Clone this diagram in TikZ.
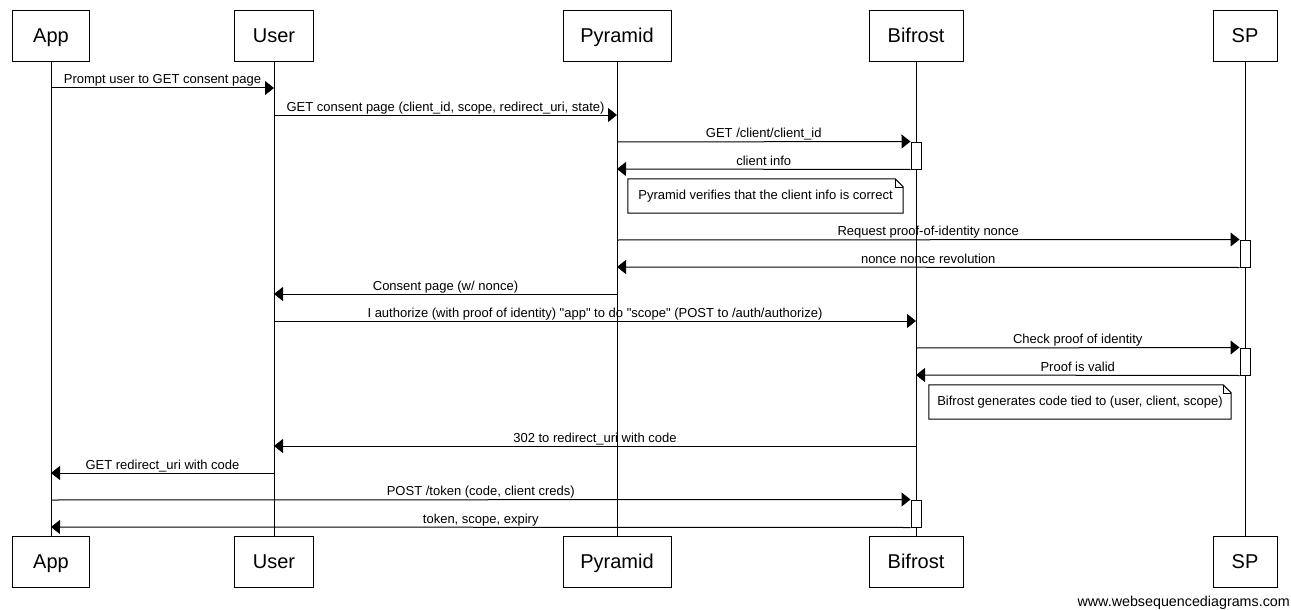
\documentclass[tikz,border=0pt]{standalone}
\usepackage{fontspec}
\setmainfont{Liberation Sans}[Ligatures=TeXOff]
\usetikzlibrary{arrows.meta,calc}
\begin{document}
\begin{tikzpicture}[x=1pt,y=-1pt,
  part/.style={draw, line width=1pt, minimum width=#1, minimum height=51, inner sep=0pt, text height=15pt, text depth=3pt, font=\fontsize{20}{24}\selectfont},
  life/.style={line width=1pt},
  msg/.style={line width=1pt, -{Triangle[length=9pt,width=14pt]}},
  lbl/.style={font=\fontsize{13}{15}\selectfont, anchor=base, yshift=4pt, inner sep=0pt},
  act/.style={draw, fill=white, line width=1pt, minimum width=10, minimum height=27, inner sep=0pt},
  notetxt/.style={font=\fontsize{13}{15}\selectfont, inner sep=0pt},
  notebox/.style={draw, fill=white, line width=1pt}
]
\useasboundingbox (0,0) rectangle (1291,610);
% participants
\node[part=77]  (At) at (51,36.5) {App};
\node[part=79]  (Ut) at (274,36.5) {User};
\node[part=108] (Pt) at (617,36.5) {Pyramid};
\node[part=94]  (Bt) at (916,36.5) {Bifrost};
\node[part=64]  (St) at (1245,36.5) {SP};
\node[part=77]  (Ab) at (51,562) {App};
\node[part=79]  (Ub) at (274,562) {User};
\node[part=108] (Pb) at (617,562) {Pyramid};
\node[part=94]  (Bb) at (916,562) {Bifrost};
\node[part=64]  (Sb) at (1245,562) {SP};
% lifelines
\draw[life] (At.south) -- (Ab.north);
\draw[life] (Ut.south) -- (Ub.north);
\draw[life] (Pt.south) -- (Pb.north);
\draw[life] (Bt.south) -- (Bb.north);
\draw[life] (St.south) -- (Sb.north);
% activations
\node[act] (a1) at (916,155.5) {};
\node[act] (a2) at (1245,253.5) {};
\node[act] (a3) at (1245,361.5) {};
\node[act] (a4) at (916,513.5) {};
% messages
\draw[msg] (At |- 0,88) -- node[lbl]{Prompt user to GET consent page} (Ut |- 0,88);
\draw[msg] (Ut |- 0,115) -- node[lbl]{GET consent page (client\_id, scope, redirect\_uri, state)} (Pt |- 0,115);
\draw[msg] (Pt |- 0,142) -- node[lbl]{GET /client/client\_id} (a1.north west);
\draw[msg] (a1.south west) -- node[lbl]{client info} (Pt |- 0,169);
% note 1
\node[notetxt, minimum width=275, minimum height=34] (n1) at (765.5,196) {};
\draw[notebox] (n1.north west) -- ($(n1.north east)+(-8,0)$) -- ($(n1.north east)+(0,8)$) -- (n1.south east) -- (n1.south west) -- cycle;
\draw[line width=0.6pt] ($(n1.north east)+(-8,0)$) -- ($(n1.north east)+(-8,8)$) -- ($(n1.north east)+(0,8)$);
\node[notetxt] at (n1) {Pyramid verifies that the client info is correct};
\draw[msg] (Pt |- 0,240) -- node[lbl]{Request proof-of-identity nonce} (a2.north west);
\draw[msg] (a2.south west) -- node[lbl]{nonce nonce revolution} (Pt |- 0,267);
\draw[msg] (Pt |- 0,294) -- node[lbl]{Consent page (w/ nonce)} (Ut |- 0,294);
\draw[msg] (Ut |- 0,321) -- node[lbl]{I authorize (with proof of identity) "app" to do "scope" (POST to /auth/authorize)} (Bt |- 0,321);
\draw[msg] (Bt |- 0,348) -- node[lbl]{Check proof of identity} (a3.north west);
\draw[msg] (a3.south west) -- node[lbl]{Proof is valid} (Bt |- 0,375);
% note 2
\node[notetxt, minimum width=302, minimum height=34] (n2) at (1080,402) {};
\draw[notebox] (n2.north west) -- ($(n2.north east)+(-8,0)$) -- ($(n2.north east)+(0,8)$) -- (n2.south east) -- (n2.south west) -- cycle;
\draw[line width=0.6pt] ($(n2.north east)+(-8,0)$) -- ($(n2.north east)+(-8,8)$) -- ($(n2.north east)+(0,8)$);
\node[notetxt] at (n2) {Bifrost generates code tied to (user, client, scope)};
\draw[msg] (Bt |- 0,446) -- node[lbl]{302 to redirect\_uri with code} (Ut |- 0,446);
\draw[msg] (Ut |- 0,473) -- node[lbl]{GET redirect\_uri with code} (At |- 0,473);
\draw[msg] (At |- 0,500) -- node[lbl]{POST /token (code, client creds)} (a4.north west);
\draw[msg] (a4.south west) -- node[lbl]{token, scope, expiry} (At |- 0,527);
% watermark
\node[font=\fontsize{14.3}{16}\selectfont, anchor=base east, inner sep=0pt] (wm) at (1290,606) {www.websequencediagrams.com};
\end{tikzpicture}
\end{document}
